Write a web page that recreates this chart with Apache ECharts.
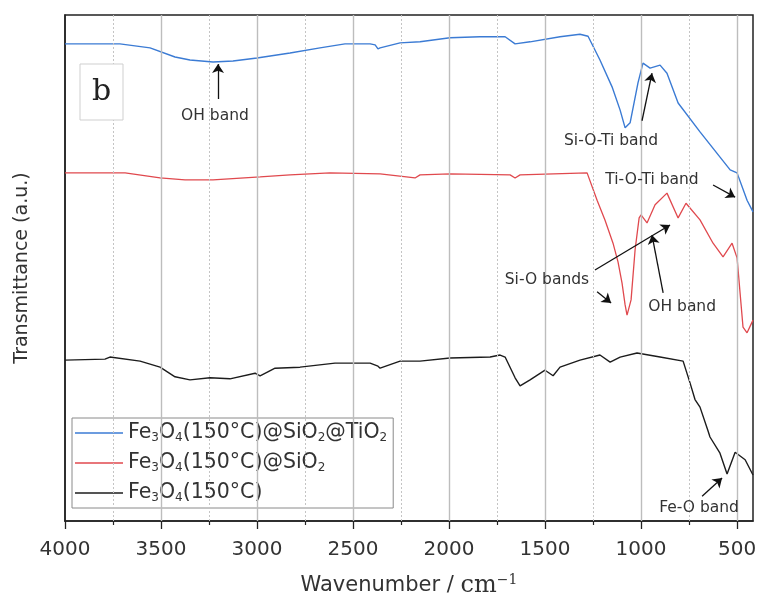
<!DOCTYPE html>
<html>
<head>
<meta charset="utf-8">
<script src="https://cdn.jsdelivr.net/npm/echarts@6/dist/echarts.min.js"></script>
<style>html,body{margin:0;padding:0;background:#fff}#c{width:757px;height:605px}</style>
</head>
<body>
<div id="c"></div>
<script>
// ---- data (wavenumber cm-1, transmittance a.u.) ----
const seriesNames = ['Fe3O4(150°C)@SiO2@TiO2', 'Fe3O4(150°C)@SiO2', 'Fe3O4(150°C)'];

const blueWn = [4000,3714,3557,3427,3349,3229,3125,3000,2828,2672,2542,2411,2385,2370,2359,2255,2151,1995,1839,1708,1656,1578,1422,1318,1276,1214,1151,1109,1083,1057,1016,990,953,901,865,807,693,536,500,448,417];
const blueT  = [94.3,94.3,93.5,91.7,91.1,90.7,90.9,91.5,92.5,93.5,94.3,94.3,94.1,93.3,93.5,94.5,94.7,95.5,95.7,95.7,94.3,94.7,95.7,96.2,95.8,91.1,85.8,81.2,77.7,78.7,86.6,90.5,89.5,90.1,88.5,82.6,76.9,69.4,68.8,63.4,61.1];

const redWn = [4000,3687,3505,3375,3229,2984,2828,2620,2359,2177,2151,1995,1682,1656,1630,1281,1229,1188,1146,1120,1099,1083,1073,1052,1031,1010,1000,969,927,865,807,766,693,625,573,526,500,469,448,417];
const redT  = [68.8,68.8,67.8,67.4,67.4,68.0,68.4,68.8,68.6,67.8,68.4,68.6,68.4,67.8,68.4,68.8,63.4,59.5,54.9,51.2,47.0,42.7,40.7,43.7,53.6,59.9,60.5,58.9,62.5,64.8,59.9,62.8,59.5,54.9,52.2,54.9,52.0,38.3,37.2,39.7];

const blackWn = [4000,3792,3766,3609,3505,3427,3349,3245,3141,3010,2984,2906,2776,2594,2411,2370,2359,2255,2151,1995,1786,1734,1708,1656,1630,1578,1500,1458,1422,1318,1214,1161,1109,1021,901,781,745,719,693,651,641,589,552,510,458,417];
const blackT  = [31.8,32.0,32.4,31.6,30.4,28.5,27.9,28.3,28.1,29.2,28.7,30.2,30.4,31.2,31.2,30.6,30.2,31.6,31.6,32.2,32.4,32.8,32.4,28.3,26.7,27.9,29.8,28.7,30.4,31.8,32.8,31.4,32.4,33.2,32.4,31.6,27.3,24.0,22.5,17.8,16.6,13.4,9.3,13.6,12.1,9.1];

const xTickLabels = [4000,3500,3000,2500,2000,1500,1000,500];
const xMinorTicks = [3750,3250,2750,2250,1750,1250,750];

// annotations in data coordinates
const annotTexts = [
  {text:'OH band', wn:3219, t:80.0},
  {text:'Si-O-Ti band', wn:1156, t:75.1},
  {text:'Ti-O-Ti band', wn:943, t:67.4},
  {text:'Si-O bands', wn:1490, t:47.6},
  {text:'OH band', wn:786, t:42.3},
  {text:'Fe-O band', wn:698, t:2.6}
];
const annotArrows = [
  [[3203,83.4],[3203,90.3]],
  [[995,79.1],[943,88.5]],
  [[625,66.4],[510,64.0]],
  [[1240,49.6],[849,58.5]],
  [[1229,45.3],[1156,43.1]],
  [[885,45.1],[943,56.5]],
  [[682,4.9],[578,8.5]]
];

const zip = (a,b) => a.map((v,i)=>[v,b[i]]);
const colors = ['#3b7bd4', '#e0494e', '#1c1c1c'];

const richMap = {
  'Fe3O4(150°C)@SiO2@TiO2': '{n|Fe}{s|3}{n|O}{s|4}{n|(150°C)@SiO}{s|2}{n|@TiO}{s|2}',
  'Fe3O4(150°C)@SiO2': '{n|Fe}{s|3}{n|O}{s|4}{n|(150°C)@SiO}{s|2}',
  'Fe3O4(150°C)': '{n|Fe}{s|3}{n|O}{s|4}{n|(150°C)}'
};

const chart = echarts.init(document.getElementById('c'), null, {renderer:'canvas'});
const FONT = '"DejaVu Sans", Verdana, sans-serif';

const option = {
  animation: false,
  backgroundColor: '#fff',
  grid: {left:65, right:4, top:15, bottom:84, containLabel:false, outerBoundsMode:'none',
         show:true, borderColor:'#222', borderWidth:1.5, backgroundColor:'transparent'},
  legend: {
    data: seriesNames.map(n => ({name:n, icon:'rect'})),
    orient: 'vertical',
    left: 72, top: 418,
    padding: [4, 6, 4, 3],
    itemGap: 8,
    itemWidth: 48, itemHeight: 1.6,
    borderColor: '#8a8a8a', borderWidth: 1, backgroundColor: '#fff',
    formatter: n => richMap[n],
    textStyle: {
      rich: {
        n: {fontSize:20.5, color:'#333', fontFamily:FONT, lineHeight:24},
        s: {fontSize:12, color:'#333', fontFamily:FONT, padding:[10,0,0,0], lineHeight:24}
      }
    }
  },
  xAxis: [{
    type:'value', min:417, max:4000, inverse:true,
    name: '{a|Wavenumber / }{b|cm}{c|−1}',
    nameLocation:'middle', nameGap:52,
    nameTextStyle:{rich:{
      a:{fontSize:21, color:'#333', fontFamily:FONT},
      b:{fontSize:24, color:'#333', fontFamily:'"DejaVu Serif", "Liberation Serif", serif'},
      c:{fontSize:14, color:'#333', fontFamily:'"DejaVu Serif", serif', padding:[0,0,12,0]}
    }},
    axisLine:{show:true, onZero:false, lineStyle:{color:'#222', width:1.5}},
    axisTick:{show:true, inside:false, length:8, customValues:xTickLabels, lineStyle:{color:'#222', width:1.3}},
    axisLabel:{show:true, customValues:xTickLabels, formatter:v=>String(v), fontSize:20, color:'#333', fontFamily:FONT, margin:19},
    splitLine:{show:false}
  },{
    type:'value', min:417, max:4000, inverse:true, position:'bottom',
    axisLine:{show:false},
    axisTick:{show:true, inside:false, length:4, customValues:xMinorTicks, lineStyle:{color:'#222', width:1.2}},
    axisLabel:{show:false},
    splitLine:{show:false}
  }],
  yAxis: {
    type:'value', min:0, max:100,
    name:'Transmittance (a.u.)', nameLocation:'middle', nameGap:33,
    nameTextStyle:{fontSize:19, color:'#333', fontFamily:FONT},
    axisLine:{show:true, onZero:false, lineStyle:{color:'#222', width:1.5}},
    axisTick:{show:false}, axisLabel:{show:false}, splitLine:{show:false}
  },
  series: [
    {
      name:'gridlines', type:'line', data:[], z:1, silent:true,
      markLine:{
        silent:true, symbol:['none','none'], animation:false,
        label:{show:false},
        data: xTickLabels.slice(1).map(v=>({xAxis:v, lineStyle:{color:'#bdbdbd', width:1.4, type:'solid'}}))
          .concat(xMinorTicks.map(v=>({xAxis:v, lineStyle:{color:'#c4c4c4', width:1, type:[2,2]}})))
      }
    },
    {name:seriesNames[0], type:'line', data:zip(blueWn,blueT), symbol:'none', z:3, lineStyle:{color:colors[0], width:1.4}, itemStyle:{color:colors[0]}},
    {name:seriesNames[1], type:'line', data:zip(redWn,redT), symbol:'none', z:3, lineStyle:{color:colors[1], width:1.3}, itemStyle:{color:colors[1]}},
    {name:seriesNames[2], type:'line', data:zip(blackWn,blackT), symbol:'none', z:3, lineStyle:{color:colors[2], width:1.4}, itemStyle:{color:colors[2]}},
    {
      name:'arrows', type:'line', data:[], z:4, silent:true,
      markLine:{
        silent:true, animation:false, symbol:['none','arrow'], symbolSize:9,
        label:{show:false},
        lineStyle:{color:'#111', width:1.3, type:'solid'},
        itemStyle:{color:'#111'},
        data: annotArrows.map(a=>[{coord:a[0]},{coord:a[1]}])
      }
    }
  ]
};
chart.setOption(option);

// texts placed at data coordinates
const g = annotTexts.map(a => {
  const p = chart.convertToPixel({xAxisIndex:0, yAxisIndex:0}, [a.wn, a.t]);
  return {type:'text', x:p[0], y:p[1], z:10, style:{text:a.text, fill:'#333', font:'15.5px ' + FONT, align:'center', verticalAlign:'middle'}};
});
// panel letter
g.push({type:'rect', shape:{x:80, y:64, width:43, height:56}, style:{fill:'#fff', stroke:'#cfcfcf', lineWidth:1}, z:9});
g.push({type:'text', x:101.5, y:92, z:10, style:{text:'b', fill:'#222', font:'30px "DejaVu Serif", serif', align:'center', verticalAlign:'middle'}});
chart.setOption({graphic: g});
</script>
</body>
</html>
